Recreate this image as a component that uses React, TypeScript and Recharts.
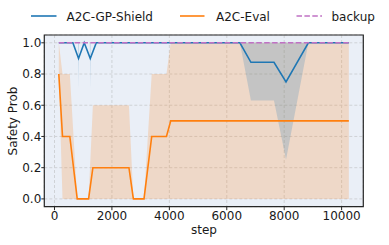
import React from "react";
import {
  ComposedChart,
  XAxis,
  YAxis,
  CartesianGrid,
  Area,
  Line,
  ReferenceArea,
} from "recharts";

// values
const orangeSteps = [150, 279, 534, 792, 1187, 1337, 2593, 2747, 3117, 3386, 3899, 4049, 10251];
const orangeMean = [0.8, 0.4, 0.4, 0, 0, 0.2, 0.2, 0, 0, 0.4, 0.4, 0.5, 0.5];
const orangeLow = [0.8, 0, 0, 0, 0, 0, 0, 0, 0, 0, 0, 0, 0];
const orangeHigh = [1, 0.8, 0.8, 0, 0, 0.6, 0.6, 0, 0, 0.8, 0.8, 1, 1];

const blueSteps = [150, 640, 838, 1036, 1246, 1455, 6457, 6841, 7644, 8063, 8842, 10251];
const blueMean = [1, 1, 0.9, 1, 0.9, 1, 1, 0.875, 0.875, 0.75, 1, 1];

const blueBandSteps = [150, 820, 838, 856, 1228, 1246, 1264, 6457, 6841, 7644, 8063, 8842, 10251];
const blueBandLow = [1, 1, 0.7, 1, 1, 0.7, 1, 1, 0.63, 0.63, 0.25, 1, 1];
const blueBandHigh = [1, 1, 1, 1, 1, 1, 1, 1, 1, 1, 1, 1, 1];

const backupSteps = [150, 10251];
const backupValues = [1, 1];

const xTicks = [0, 2000, 4000, 6000, 8000, 10000];
const yTicks = [0, 0.2, 0.4, 0.6, 0.8, 1.0];

const BLUE = "#1f77b4";
const ORANGE = "#ff7f0e";
const PURPLE = "#c071c4";
const FONT = "DejaVu Sans";

const orangeData = orangeSteps.map((step, i) => ({
  step,
  mean: orangeMean[i],
  range: [orangeLow[i], orangeHigh[i]],
}));
const blueData = blueSteps.map((step, i) => ({ step, mean: blueMean[i] }));
const blueBand = blueBandSteps.map((step, i) => ({
  step,
  range: [blueBandLow[i], blueBandHigh[i]],
}));
const backupData = backupSteps.map((step, i) => ({ step, value: backupValues[i] }));

const tickStyle = { fontFamily: FONT, fontSize: 12, fill: "#1a1a1a" };

const LegendOverlay = () => (
  <svg
    width={389}
    height={30}
    style={{ position: "absolute", left: 0, top: 0, fontFamily: FONT, fontSize: 12 }}
  >
    <line x1={31} x2={56.5} y1={16} y2={16} stroke={BLUE} strokeWidth={1.6} />
    <text x={66.5} y={21.3} fill="#1a1a1a">A2C-GP-Shield</text>
    <line x1={180} x2={204.5} y1={16} y2={16} stroke={ORANGE} strokeWidth={1.6} />
    <text x={216} y={21.3} fill="#1a1a1a">A2C-Eval</text>
    <line x1={296.5} x2={322} y1={16} y2={16} stroke={PURPLE} strokeWidth={1.6} strokeDasharray="5.5 2.4" />
    <text x={331.5} y={21.3} fill="#1a1a1a">backup</text>
  </svg>
);

export default function App() {
  return (
    <div style={{ position: "absolute", left: 0, top: 0, width: 389, height: 245 }}>
      <ComposedChart
        width={389}
        height={245}
        margin={{ top: 35, right: 25.7, bottom: 0, left: 0 }}
      >
        <CartesianGrid
          fill="#eaeff7"
          fillOpacity={1}
          stroke="#cfd2d6"
          strokeDasharray="3 2"
        />
        <XAxis
          dataKey="step"
          type="number"
          domain={[-355, 10755]}
          allowDataOverflow
          ticks={xTicks}
          height={38.3}
          axisLine={false}
          tickLine={{ stroke: "#262626" }}
          tickSize={3.5}
          tickMargin={1}
          tick={tickStyle}
          label={{
            content: () => (
              <text x={204} y={233.5} textAnchor="middle" style={tickStyle}>
                step
              </text>
            ),
          }}
        />
        <YAxis
          type="number"
          domain={[-0.05, 1.05]}
          allowDataOverflow
          ticks={yTicks}
          width={44.3}
          axisLine={false}
          tickLine={{ stroke: "#262626" }}
          tickSize={3}
          tickMargin={0}
          tick={tickStyle}
          tickFormatter={(v: number) => v.toFixed(1)}
          label={{
            content: () => (
              <text
                x={13}
                y={121}
                textAnchor="middle"
                dominantBaseline="central"
                transform="rotate(-90 13 121)"
                style={tickStyle}
              >
                Safety Prob
              </text>
            ),
          }}
        />
        <Area
          data={orangeData}
          dataKey="range"
          type="linear"
          stroke="none"
          fill={ORANGE}
          fillOpacity={0.2}
          isAnimationActive={false}
          activeDot={false}
        />
        <Area
          data={blueBand}
          dataKey="range"
          type="linear"
          stroke="none"
          fill={BLUE}
          fillOpacity={0.2}
          isAnimationActive={false}
          activeDot={false}
        />
        <Line
          data={orangeData}
          dataKey="mean"
          type="linear"
          stroke={ORANGE}
          strokeWidth={1.6}
          dot={false}
          activeDot={false}
          isAnimationActive={false}
        />
        <Line
          data={blueData}
          dataKey="mean"
          type="linear"
          stroke={BLUE}
          strokeWidth={1.6}
          dot={false}
          activeDot={false}
          isAnimationActive={false}
        />
        <Line
          data={backupData}
          dataKey="value"
          type="linear"
          stroke={PURPLE}
          strokeWidth={1.6}
          strokeDasharray="5.5 2.4"
          dot={false}
          activeDot={false}
          isAnimationActive={false}
        />
        <ReferenceArea
          x1={-355}
          x2={10755}
          y1={-0.05}
          y2={1.05}
          fill="none"
          stroke="#262626"
          strokeWidth={1.2}
          ifOverflow="visible"
        />
      </ComposedChart>
      <LegendOverlay />
    </div>
  );
}
